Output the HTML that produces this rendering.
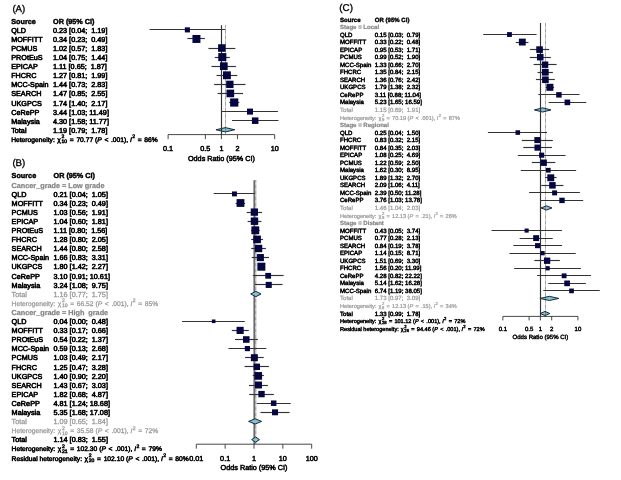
<!DOCTYPE html>
<html lang="en"><head><meta charset="utf-8"><title>Forest plots</title>
<style>
html,body{margin:0;padding:0;background:#fff;}
body{width:621px;height:480px;position:relative;overflow:hidden;font-family:"Liberation Sans", sans-serif;}
#fig{position:absolute;left:0;top:0;width:621px;height:480px;overflow:hidden;will-change:transform;}
svg{position:absolute;left:0;top:0;}
svg text{font-family:"Liberation Sans", sans-serif;fill:#000;stroke:#000;stroke-width:.6px;white-space:pre;text-rendering:geometricPrecision;}
svg text.g{fill:#9a9a9a;stroke:#9a9a9a;}
svg text.gd{fill:#868686;stroke:#868686;}
</style></head><body><div id="fig">
<svg width="621" height="480" viewBox="0 0 621 480">
<polygon points="215.94,129.76 225.43,127.61 234.75,129.76 225.43,131.91" fill="#84c0d6" stroke="#10202a" stroke-width="0.95"/>
<polygon points="534.35,109.93 542.68,107.83 550.95,109.93 542.68,112.03" fill="#84c0d6" stroke="#10202a" stroke-width="0.95"/>
<polygon points="541.04,207.95 546.57,205.85 551.95,207.95 546.57,210.05" fill="#84c0d6" stroke="#10202a" stroke-width="0.95"/>
<polygon points="539.90,298.43 549.34,296.33 558.80,298.43 549.34,300.53" fill="#84c0d6" stroke="#10202a" stroke-width="0.95"/>
<polygon points="540.24,313.51 545.05,311.41 549.80,313.51 545.05,315.61" fill="#84c0d6" stroke="#10202a" stroke-width="0.95"/>
<line x1="221.50" y1="25.20" x2="221.50" y2="134.60" stroke="#333333" stroke-width="1.15"/>
<line x1="225.50" y1="25.20" x2="225.50" y2="134.60" stroke="#2a2a2a" stroke-width="0.7" stroke-dasharray="0.6 0.6"/>
<line x1="149.56" y1="29.50" x2="225.43" y2="29.50" stroke="#333333" stroke-width="1.15"/>
<rect x="184.83" y="27.33" width="5.10" height="5.10" fill="#05053f"/>
<line x1="187.38" y1="38.50" x2="204.89" y2="38.50" stroke="#333333" stroke-width="1.15"/>
<rect x="192.44" y="34.97" width="7.98" height="7.98" fill="#05053f"/>
<line x1="208.39" y1="48.50" x2="235.39" y2="48.50" stroke="#333333" stroke-width="1.15"/>
<rect x="218.08" y="44.26" width="7.56" height="7.56" fill="#05053f"/>
<line x1="214.74" y1="57.50" x2="229.84" y2="57.50" stroke="#333333" stroke-width="1.15"/>
<rect x="218.28" y="53.09" width="8.06" height="8.06" fill="#05053f"/>
<line x1="211.43" y1="66.50" x2="235.89" y2="66.50" stroke="#333333" stroke-width="1.15"/>
<rect x="219.97" y="62.36" width="7.68" height="7.68" fill="#05053f"/>
<line x1="216.52" y1="75.50" x2="237.33" y2="75.50" stroke="#333333" stroke-width="1.15"/>
<rect x="223.01" y="71.36" width="7.84" height="7.84" fill="#05053f"/>
<line x1="214.12" y1="84.50" x2="245.48" y2="84.50" stroke="#333333" stroke-width="1.15"/>
<rect x="226.17" y="80.69" width="7.34" height="7.34" fill="#05053f"/>
<line x1="217.64" y1="93.50" x2="243.07" y2="93.50" stroke="#333333" stroke-width="1.15"/>
<rect x="226.50" y="89.62" width="7.64" height="7.64" fill="#05053f"/>
<line x1="229.19" y1="102.50" x2="239.33" y2="102.50" stroke="#333333" stroke-width="1.15"/>
<rect x="230.12" y="98.42" width="8.20" height="8.20" fill="#05053f"/>
<line x1="222.08" y1="111.50" x2="277.92" y2="111.50" stroke="#333333" stroke-width="1.15"/>
<rect x="246.98" y="108.58" width="6.03" height="6.03" fill="#05053f"/>
<line x1="231.99" y1="120.50" x2="278.47" y2="120.50" stroke="#333333" stroke-width="1.15"/>
<rect x="251.90" y="117.42" width="6.53" height="6.53" fill="#05053f"/>
<path d="M168.10 139.10V134.60H274.70V139.10" fill="none" stroke="#333333" stroke-width="0.9"/>
<line x1="205.36" y1="134.60" x2="205.36" y2="139.10" stroke="#333333" stroke-width="0.9"/>
<line x1="221.40" y1="134.60" x2="221.40" y2="139.10" stroke="#333333" stroke-width="0.9"/>
<line x1="237.44" y1="134.60" x2="237.44" y2="139.10" stroke="#333333" stroke-width="0.9"/>
<text x="168.10" y="151.41" font-size="7.25" text-anchor="middle" style="stroke-width:0.51px">0.1</text>
<text x="205.36" y="151.41" font-size="7.25" text-anchor="middle" style="stroke-width:0.51px">0.5</text>
<text x="221.40" y="151.41" font-size="7.25" text-anchor="middle" style="stroke-width:0.51px">1</text>
<text x="237.44" y="151.41" font-size="7.25" text-anchor="middle" style="stroke-width:0.51px">2</text>
<text x="274.70" y="151.41" font-size="7.25" text-anchor="middle" style="stroke-width:0.51px">10</text>
<text x="221.40" y="160.81" font-size="7.25" text-anchor="middle" style="stroke-width:0.51px">Odds Ratio (95% CI)</text>
<line x1="254.15" y1="180.20" x2="254.15" y2="444.20" stroke="#333333" stroke-width="1.15"/>
<line x1="255.79" y1="180.20" x2="255.79" y2="444.20" stroke="#2a2a2a" stroke-width="0.95" stroke-dasharray="0.6 0.6"/>
<line x1="213.67" y1="193.50" x2="254.61" y2="193.50" stroke="#333333" stroke-width="1.15"/>
<rect x="231.99" y="191.44" width="4.92" height="4.92" fill="#05053f"/>
<line x1="235.59" y1="203.50" x2="245.06" y2="203.50" stroke="#333333" stroke-width="1.15"/>
<rect x="236.59" y="199.11" width="7.79" height="7.79" fill="#05053f"/>
<line x1="246.74" y1="212.50" x2="262.11" y2="212.50" stroke="#333333" stroke-width="1.15"/>
<rect x="250.72" y="208.45" width="7.30" height="7.30" fill="#05053f"/>
<line x1="247.60" y1="221.50" x2="261.43" y2="221.50" stroke="#333333" stroke-width="1.15"/>
<rect x="250.77" y="217.48" width="7.44" height="7.44" fill="#05053f"/>
<line x1="251.20" y1="230.50" x2="259.57" y2="230.50" stroke="#333333" stroke-width="1.15"/>
<rect x="251.38" y="226.37" width="7.86" height="7.86" fill="#05053f"/>
<line x1="251.20" y1="239.50" x2="262.99" y2="239.50" stroke="#333333" stroke-width="1.15"/>
<rect x="253.29" y="235.59" width="7.61" height="7.61" fill="#05053f"/>
<line x1="251.20" y1="248.50" x2="265.88" y2="248.50" stroke="#333333" stroke-width="1.15"/>
<rect x="254.89" y="244.82" width="7.36" height="7.36" fill="#05053f"/>
<line x1="251.67" y1="257.50" x2="269.00" y2="257.50" stroke="#333333" stroke-width="1.15"/>
<rect x="256.80" y="254.04" width="7.11" height="7.11" fill="#05053f"/>
<line x1="258.39" y1="266.50" x2="264.27" y2="266.50" stroke="#333333" stroke-width="1.15"/>
<rect x="257.36" y="262.70" width="8.00" height="8.00" fill="#05053f"/>
<line x1="252.82" y1="275.50" x2="283.59" y2="275.50" stroke="#333333" stroke-width="1.15"/>
<rect x="265.28" y="272.91" width="5.78" height="5.78" fill="#05053f"/>
<line x1="254.96" y1="284.50" x2="282.53" y2="284.50" stroke="#333333" stroke-width="1.15"/>
<rect x="265.68" y="281.86" width="6.09" height="6.09" fill="#05053f"/>
<polygon points="250.73,294.00 255.86,291.35 261.01,294.00 255.86,296.65" fill="#84c0d6" stroke="#10202a" stroke-width="0.95"/>
<line x1="182.02" y1="321.50" x2="244.80" y2="321.50" stroke="#333333" stroke-width="1.15"/>
<rect x="211.86" y="319.49" width="3.61" height="3.61" fill="#05053f"/>
<line x1="231.80" y1="330.50" x2="248.79" y2="330.50" stroke="#333333" stroke-width="1.15"/>
<rect x="236.54" y="326.83" width="7.14" height="7.14" fill="#05053f"/>
<line x1="235.03" y1="339.50" x2="257.94" y2="339.50" stroke="#333333" stroke-width="1.15"/>
<rect x="243.00" y="336.22" width="6.55" height="6.55" fill="#05053f"/>
<line x1="228.44" y1="348.50" x2="266.35" y2="348.50" stroke="#333333" stroke-width="1.15"/>
<rect x="244.81" y="346.02" width="5.16" height="5.16" fill="#05053f"/>
<line x1="245.06" y1="357.50" x2="263.71" y2="357.50" stroke="#333333" stroke-width="1.15"/>
<rect x="250.88" y="354.21" width="6.98" height="6.98" fill="#05053f"/>
<line x1="244.54" y1="366.50" x2="268.88" y2="366.50" stroke="#333333" stroke-width="1.15"/>
<rect x="253.59" y="363.60" width="6.41" height="6.41" fill="#05053f"/>
<line x1="252.68" y1="375.50" x2="263.88" y2="375.50" stroke="#333333" stroke-width="1.15"/>
<rect x="254.39" y="372.07" width="7.66" height="7.66" fill="#05053f"/>
<line x1="248.98" y1="385.50" x2="267.89" y2="385.50" stroke="#333333" stroke-width="1.15"/>
<rect x="255.00" y="381.52" width="6.95" height="6.95" fill="#05053f"/>
<line x1="249.17" y1="394.50" x2="273.84" y2="394.50" stroke="#333333" stroke-width="1.15"/>
<rect x="258.32" y="390.91" width="6.38" height="6.38" fill="#05053f"/>
<line x1="256.70" y1="403.50" x2="290.68" y2="403.50" stroke="#333333" stroke-width="1.15"/>
<rect x="270.93" y="400.45" width="5.49" height="5.49" fill="#05053f"/>
<line x1="260.50" y1="412.50" x2="289.56" y2="412.50" stroke="#333333" stroke-width="1.15"/>
<rect x="272.04" y="409.33" width="5.95" height="5.95" fill="#05053f"/>
<polygon points="248.60,421.40 255.08,418.75 261.64,421.40 255.08,424.05" fill="#84c0d6" stroke="#10202a" stroke-width="0.95"/>
<polygon points="251.67,439.60 255.64,436.95 259.49,439.60 255.64,442.25" fill="#84c0d6" stroke="#10202a" stroke-width="0.95"/>
<path d="M196.30 448.70V444.20H311.70V448.70" fill="none" stroke="#333333" stroke-width="0.9"/>
<line x1="225.15" y1="444.20" x2="225.15" y2="448.70" stroke="#333333" stroke-width="0.9"/>
<line x1="254.00" y1="444.20" x2="254.00" y2="448.70" stroke="#333333" stroke-width="0.9"/>
<line x1="282.85" y1="444.20" x2="282.85" y2="448.70" stroke="#333333" stroke-width="0.9"/>
<text x="196.30" y="461.01" font-size="7.25" text-anchor="middle" style="stroke-width:0.51px">0.01</text>
<text x="225.15" y="461.01" font-size="7.25" text-anchor="middle" style="stroke-width:0.51px">0.1</text>
<text x="254.00" y="461.01" font-size="7.25" text-anchor="middle" style="stroke-width:0.51px">1</text>
<text x="282.85" y="461.01" font-size="7.25" text-anchor="middle" style="stroke-width:0.51px">10</text>
<text x="311.70" y="461.01" font-size="7.25" text-anchor="middle" style="stroke-width:0.51px">100</text>
<text x="254.00" y="470.01" font-size="7.25" text-anchor="middle" style="stroke-width:0.51px">Odds Ratio (95% CI)</text>
<line x1="540.50" y1="23.00" x2="540.50" y2="316.40" stroke="#333333" stroke-width="1.15"/>
<line x1="545.50" y1="23.00" x2="545.50" y2="316.40" stroke="#2a2a2a" stroke-width="0.7" stroke-dasharray="0.6 0.6"/>
<line x1="483.22" y1="34.50" x2="536.56" y2="34.50" stroke="#333333" stroke-width="1.15"/>
<rect x="507.05" y="32.11" width="4.83" height="4.83" fill="#05053f"/>
<line x1="515.71" y1="42.50" x2="528.43" y2="42.50" stroke="#333333" stroke-width="1.15"/>
<rect x="518.88" y="38.63" width="6.88" height="6.88" fill="#05053f"/>
<line x1="530.05" y1="49.50" x2="549.15" y2="49.50" stroke="#333333" stroke-width="1.15"/>
<rect x="536.25" y="46.30" width="6.63" height="6.63" fill="#05053f"/>
<line x1="529.74" y1="57.50" x2="550.87" y2="57.50" stroke="#333333" stroke-width="1.15"/>
<rect x="536.97" y="53.88" width="6.53" height="6.53" fill="#05053f"/>
<line x1="533.62" y1="64.50" x2="556.60" y2="64.50" stroke="#333333" stroke-width="1.15"/>
<rect x="541.83" y="61.47" width="6.44" height="6.44" fill="#05053f"/>
<line x1="537.56" y1="72.50" x2="552.88" y2="72.50" stroke="#333333" stroke-width="1.15"/>
<rect x="541.90" y="68.84" width="6.78" height="6.78" fill="#05053f"/>
<line x1="535.92" y1="79.50" x2="554.81" y2="79.50" stroke="#333333" stroke-width="1.15"/>
<rect x="542.10" y="76.45" width="6.64" height="6.64" fill="#05053f"/>
<line x1="545.65" y1="87.50" x2="554.12" y2="87.50" stroke="#333333" stroke-width="1.15"/>
<rect x="546.39" y="83.81" width="7.00" height="7.00" fill="#05053f"/>
<line x1="538.32" y1="94.50" x2="579.56" y2="94.50" stroke="#333333" stroke-width="1.15"/>
<rect x="556.17" y="92.12" width="5.46" height="5.46" fill="#05053f"/>
<line x1="548.57" y1="102.50" x2="586.21" y2="102.50" stroke="#333333" stroke-width="1.15"/>
<rect x="564.55" y="99.56" width="5.65" height="5.65" fill="#05053f"/>
<line x1="487.91" y1="132.50" x2="547.01" y2="132.50" stroke="#333333" stroke-width="1.15"/>
<rect x="515.51" y="130.27" width="4.56" height="4.56" fill="#05053f"/>
<line x1="521.82" y1="140.50" x2="552.88" y2="140.50" stroke="#333333" stroke-width="1.15"/>
<rect x="534.35" y="137.08" width="6.02" height="6.02" fill="#05053f"/>
<line x1="523.28" y1="147.50" x2="551.95" y2="147.50" stroke="#333333" stroke-width="1.15"/>
<rect x="534.48" y="144.56" width="6.15" height="6.15" fill="#05053f"/>
<line x1="517.79" y1="155.50" x2="565.60" y2="155.50" stroke="#333333" stroke-width="1.15"/>
<rect x="539.10" y="152.62" width="5.11" height="5.11" fill="#05053f"/>
<line x1="531.80" y1="162.50" x2="555.34" y2="162.50" stroke="#333333" stroke-width="1.15"/>
<rect x="540.44" y="159.50" width="6.41" height="6.41" fill="#05053f"/>
<line x1="520.77" y1="170.50" x2="576.14" y2="170.50" stroke="#333333" stroke-width="1.15"/>
<rect x="545.90" y="167.88" width="4.73" height="4.73" fill="#05053f"/>
<line x1="544.93" y1="177.50" x2="556.60" y2="177.50" stroke="#333333" stroke-width="1.15"/>
<rect x="547.32" y="174.33" width="6.91" height="6.91" fill="#05053f"/>
<line x1="541.35" y1="185.50" x2="563.45" y2="185.50" stroke="#333333" stroke-width="1.15"/>
<rect x="549.18" y="182.09" width="6.49" height="6.49" fill="#05053f"/>
<line x1="529.10" y1="192.50" x2="579.91" y2="192.50" stroke="#333333" stroke-width="1.15"/>
<rect x="552.13" y="190.39" width="4.96" height="4.96" fill="#05053f"/>
<line x1="540.88" y1="200.50" x2="583.18" y2="200.50" stroke="#333333" stroke-width="1.15"/>
<rect x="559.30" y="197.71" width="5.40" height="5.40" fill="#05053f"/>
<line x1="491.55" y1="230.50" x2="561.91" y2="230.50" stroke="#333333" stroke-width="1.15"/>
<rect x="524.59" y="228.53" width="4.09" height="4.09" fill="#05053f"/>
<line x1="519.64" y1="238.50" x2="552.73" y2="238.50" stroke="#333333" stroke-width="1.15"/>
<rect x="533.19" y="235.16" width="5.90" height="5.90" fill="#05053f"/>
<line x1="513.32" y1="245.50" x2="562.08" y2="245.50" stroke="#333333" stroke-width="1.15"/>
<rect x="535.03" y="243.12" width="5.06" height="5.06" fill="#05053f"/>
<line x1="509.46" y1="253.50" x2="575.70" y2="253.50" stroke="#333333" stroke-width="1.15"/>
<rect x="540.41" y="251.06" width="4.25" height="4.25" fill="#05053f"/>
<line x1="534.35" y1="260.50" x2="559.87" y2="260.50" stroke="#333333" stroke-width="1.15"/>
<rect x="543.96" y="257.57" width="6.31" height="6.31" fill="#05053f"/>
<line x1="514.15" y1="268.50" x2="580.91" y2="268.50" stroke="#333333" stroke-width="1.15"/>
<rect x="545.54" y="266.15" width="4.23" height="4.23" fill="#05053f"/>
<line x1="537.16" y1="275.50" x2="590.97" y2="275.50" stroke="#333333" stroke-width="1.15"/>
<rect x="561.71" y="273.41" width="4.81" height="4.81" fill="#05053f"/>
<line x1="548.27" y1="283.50" x2="585.90" y2="283.50" stroke="#333333" stroke-width="1.15"/>
<rect x="564.27" y="280.52" width="5.65" height="5.65" fill="#05053f"/>
<line x1="543.24" y1="290.50" x2="599.74" y2="290.50" stroke="#333333" stroke-width="1.15"/>
<rect x="569.18" y="288.55" width="4.68" height="4.68" fill="#05053f"/>
<path d="M502.85 320.40V316.40H577.95V320.40" fill="none" stroke="#333333" stroke-width="0.9"/>
<line x1="529.10" y1="316.40" x2="529.10" y2="320.40" stroke="#333333" stroke-width="0.9"/>
<line x1="540.40" y1="316.40" x2="540.40" y2="320.40" stroke="#333333" stroke-width="0.9"/>
<line x1="551.70" y1="316.40" x2="551.70" y2="320.40" stroke="#333333" stroke-width="0.9"/>
<text x="502.85" y="330.98" font-size="6.05" text-anchor="middle" style="stroke-width:0.42px">0.1</text>
<text x="529.10" y="330.98" font-size="6.05" text-anchor="middle" style="stroke-width:0.42px">0.5</text>
<text x="540.40" y="330.98" font-size="6.05" text-anchor="middle" style="stroke-width:0.42px">1</text>
<text x="551.70" y="330.98" font-size="6.05" text-anchor="middle" style="stroke-width:0.42px">2</text>
<text x="577.95" y="330.98" font-size="6.05" text-anchor="middle" style="stroke-width:0.42px">10</text>
<text x="540.40" y="338.88" font-size="6.05" text-anchor="middle" style="stroke-width:0.42px">Odds Ratio (95% CI)</text>
<text x="12.40" y="12.20" font-size="9.70" style="stroke-width:0.34px">(A)</text>
<text x="11.20" y="23.80" font-size="7.25" font-weight="bold" style="stroke-width:0.45px">Source</text>
<text x="53.00" y="23.80" font-size="7.25" font-weight="bold" style="stroke-width:0.45px">OR (95% CI)</text>
<text x="11.20" y="32.88" font-size="7.25" style="stroke-width:0.57px">QLD</text>
<text x="53.00" y="32.88" font-size="7.25" style="stroke-width:0.57px">0.23 [0.04;  1.19]</text>
<text x="11.20" y="41.96" font-size="7.25" style="stroke-width:0.57px">MOFFITT</text>
<text x="53.00" y="41.96" font-size="7.25" style="stroke-width:0.57px">0.34 [0.23;  0.49]</text>
<text x="11.20" y="51.04" font-size="7.25" style="stroke-width:0.57px">PCMUS</text>
<text x="53.00" y="51.04" font-size="7.25" style="stroke-width:0.57px">1.02 [0.57;  1.83]</text>
<text x="11.20" y="60.12" font-size="7.25" style="stroke-width:0.57px">PROtEuS</text>
<text x="53.00" y="60.12" font-size="7.25" style="stroke-width:0.57px">1.04 [0.75;  1.44]</text>
<text x="11.20" y="69.20" font-size="7.25" style="stroke-width:0.57px">EPICAP</text>
<text x="53.00" y="69.20" font-size="7.25" style="stroke-width:0.57px">1.11 [0.65;  1.87]</text>
<text x="11.20" y="78.28" font-size="7.25" style="stroke-width:0.57px">FHCRC</text>
<text x="53.00" y="78.28" font-size="7.25" style="stroke-width:0.57px">1.27 [0.81;  1.99]</text>
<text x="11.20" y="87.36" font-size="7.25" style="stroke-width:0.57px">MCC-Spain</text>
<text x="53.00" y="87.36" font-size="7.25" style="stroke-width:0.57px">1.44 [0.73;  2.83]</text>
<text x="11.20" y="96.44" font-size="7.25" style="stroke-width:0.57px">SEARCH</text>
<text x="53.00" y="96.44" font-size="7.25" style="stroke-width:0.57px">1.47 [0.85;  2.55]</text>
<text x="11.20" y="105.52" font-size="7.25" style="stroke-width:0.57px">UKGPCS</text>
<text x="53.00" y="105.52" font-size="7.25" style="stroke-width:0.57px">1.74 [1.40;  2.17]</text>
<text x="11.20" y="114.60" font-size="7.25" style="stroke-width:0.57px">CeRePP</text>
<text x="53.00" y="114.60" font-size="7.25" style="stroke-width:0.57px">3.44 [1.03; 11.49]</text>
<text x="11.20" y="123.68" font-size="7.25" style="stroke-width:0.57px">Malaysia</text>
<text x="53.00" y="123.68" font-size="7.25" style="stroke-width:0.57px">4.30 [1.58; 11.77]</text>
<text x="11.20" y="132.76" font-size="7.25" style="stroke-width:0.57px">Total</text>
<text x="53.00" y="132.76" font-size="7.25" style="stroke-width:0.57px">1.19 [0.79;  1.78]</text>
<text x="11.20" y="141.84" font-size="6.71" style="stroke-width:0.52px">Heterogeneity: <tspan dx="0.58">χ</tspan><tspan font-size="5.07" dx="0.73" dy="-3.41">2</tspan><tspan font-size="5.07" dx="-2.82" dy="5.00">10</tspan><tspan dx="0.80" dy="-1.59"> = </tspan><tspan dx="0.80">70.77 (<tspan font-style="italic">P</tspan></tspan><tspan dx="0.80"> &lt; </tspan><tspan dx="0.80">.001), </tspan><tspan font-style="italic">I</tspan><tspan font-size="5.07" dx="0.36" dy="-3.41">2</tspan><tspan dx="0.80" dy="3.41"> = </tspan><tspan dx="0.80">86%</tspan></text>
<text x="12.40" y="166.00" font-size="9.70" style="stroke-width:0.34px">(B)</text>
<text x="11.60" y="178.40" font-size="7.25" font-weight="bold" style="stroke-width:0.45px">Source</text>
<text x="53.50" y="178.40" font-size="7.25" font-weight="bold" style="stroke-width:0.45px">OR (95% CI)</text>
<text x="11.60" y="187.50" font-size="7.25" font-weight="bold" class="g gd" style="stroke-width:0.25px">Cancer_grade = Low grade</text>
<text x="11.60" y="196.60" font-size="7.25" style="stroke-width:0.57px">QLD</text>
<text x="53.50" y="196.60" font-size="7.25" style="stroke-width:0.57px">0.21 [0.04;  1.05]</text>
<text x="11.60" y="205.70" font-size="7.25" style="stroke-width:0.57px">MOFFITT</text>
<text x="53.50" y="205.70" font-size="7.25" style="stroke-width:0.57px">0.34 [0.23;  0.49]</text>
<text x="11.60" y="214.80" font-size="7.25" style="stroke-width:0.57px">PCMUS</text>
<text x="53.50" y="214.80" font-size="7.25" style="stroke-width:0.57px">1.03 [0.56;  1.91]</text>
<text x="11.60" y="223.90" font-size="7.25" style="stroke-width:0.57px">EPICAP</text>
<text x="53.50" y="223.90" font-size="7.25" style="stroke-width:0.57px">1.04 [0.60;  1.81]</text>
<text x="11.60" y="233.00" font-size="7.25" style="stroke-width:0.57px">PROtEuS</text>
<text x="53.50" y="233.00" font-size="7.25" style="stroke-width:0.57px">1.11 [0.80;  1.56]</text>
<text x="11.60" y="242.10" font-size="7.25" style="stroke-width:0.57px">FHCRC</text>
<text x="53.50" y="242.10" font-size="7.25" style="stroke-width:0.57px">1.28 [0.80;  2.05]</text>
<text x="11.60" y="251.20" font-size="7.25" style="stroke-width:0.57px">SEARCH</text>
<text x="53.50" y="251.20" font-size="7.25" style="stroke-width:0.57px">1.44 [0.80;  2.58]</text>
<text x="11.60" y="260.30" font-size="7.25" style="stroke-width:0.57px">MCC-Spain</text>
<text x="53.50" y="260.30" font-size="7.25" style="stroke-width:0.57px">1.66 [0.83;  3.31]</text>
<text x="11.60" y="269.40" font-size="7.25" style="stroke-width:0.57px">UKGPCS</text>
<text x="53.50" y="269.40" font-size="7.25" style="stroke-width:0.57px">1.80 [1.42;  2.27]</text>
<text x="11.60" y="278.50" font-size="7.25" style="stroke-width:0.57px">CeRePP</text>
<text x="53.50" y="278.50" font-size="7.25" style="stroke-width:0.57px">3.10 [0.91; 10.61]</text>
<text x="11.60" y="287.60" font-size="7.25" style="stroke-width:0.57px">Malaysia</text>
<text x="53.50" y="287.60" font-size="7.25" style="stroke-width:0.57px">3.24 [1.08;  9.75]</text>
<text x="11.60" y="296.70" font-size="7.25" class="g" style="stroke-width:0.29px">Total</text>
<text x="53.50" y="296.70" font-size="7.25" class="g" style="stroke-width:0.29px">1.16 [0.77;  1.75]</text>
<text x="11.60" y="305.80" font-size="6.71" class="g" style="stroke-width:0.27px">Heterogeneity: <tspan dx="0.58">χ</tspan><tspan font-size="5.07" dx="0.73" dy="-3.41">2</tspan><tspan font-size="5.07" dx="-2.82" dy="5.00">10</tspan><tspan dx="0.80" dy="-1.59"> = </tspan><tspan dx="0.80">66.52 (<tspan font-style="italic">P</tspan></tspan><tspan dx="0.80"> &lt; </tspan><tspan dx="0.80">.001), </tspan><tspan font-style="italic">I</tspan><tspan font-size="5.07" dx="0.36" dy="-3.41">2</tspan><tspan dx="0.80" dy="3.41"> = </tspan><tspan dx="0.80">85%</tspan></text>
<text x="11.60" y="314.90" font-size="7.25" font-weight="bold" class="g gd" style="stroke-width:0.25px">Cancer_grade = High  grade</text>
<text x="11.60" y="324.00" font-size="7.25" style="stroke-width:0.57px">QLD</text>
<text x="53.50" y="324.00" font-size="7.25" style="stroke-width:0.57px">0.04 [0.00;  0.48]</text>
<text x="11.60" y="333.10" font-size="7.25" style="stroke-width:0.57px">MOFFITT</text>
<text x="53.50" y="333.10" font-size="7.25" style="stroke-width:0.57px">0.33 [0.17;  0.66]</text>
<text x="11.60" y="342.20" font-size="7.25" style="stroke-width:0.57px">PROtEuS</text>
<text x="53.50" y="342.20" font-size="7.25" style="stroke-width:0.57px">0.54 [0.22;  1.37]</text>
<text x="11.60" y="351.30" font-size="7.25" style="stroke-width:0.57px">MCC-Spain</text>
<text x="53.50" y="351.30" font-size="7.25" style="stroke-width:0.57px">0.59 [0.13;  2.68]</text>
<text x="11.60" y="360.40" font-size="7.25" style="stroke-width:0.57px">PCMUS</text>
<text x="53.50" y="360.40" font-size="7.25" style="stroke-width:0.57px">1.03 [0.49;  2.17]</text>
<text x="11.60" y="369.50" font-size="7.25" style="stroke-width:0.57px">FHCRC</text>
<text x="53.50" y="369.50" font-size="7.25" style="stroke-width:0.57px">1.25 [0.47;  3.28]</text>
<text x="11.60" y="378.60" font-size="7.25" style="stroke-width:0.57px">UKGPCS</text>
<text x="53.50" y="378.60" font-size="7.25" style="stroke-width:0.57px">1.40 [0.90;  2.20]</text>
<text x="11.60" y="387.70" font-size="7.25" style="stroke-width:0.57px">SEARCH</text>
<text x="53.50" y="387.70" font-size="7.25" style="stroke-width:0.57px">1.43 [0.67;  3.03]</text>
<text x="11.60" y="396.80" font-size="7.25" style="stroke-width:0.57px">EPICAP</text>
<text x="53.50" y="396.80" font-size="7.25" style="stroke-width:0.57px">1.82 [0.68;  4.87]</text>
<text x="11.60" y="405.90" font-size="7.25" style="stroke-width:0.57px">CeRePP</text>
<text x="53.50" y="405.90" font-size="7.25" style="stroke-width:0.57px">4.81 [1.24; 18.68]</text>
<text x="11.60" y="415.00" font-size="7.25" style="stroke-width:0.57px">Malaysia</text>
<text x="53.50" y="415.00" font-size="7.25" style="stroke-width:0.57px">5.35 [1.68; 17.08]</text>
<text x="11.60" y="424.10" font-size="7.25" class="g" style="stroke-width:0.29px">Total</text>
<text x="53.50" y="424.10" font-size="7.25" class="g" style="stroke-width:0.29px">1.09 [0.65;  1.84]</text>
<text x="11.60" y="433.20" font-size="6.71" class="g" style="stroke-width:0.27px">Heterogeneity: <tspan dx="0.58">χ</tspan><tspan font-size="5.07" dx="0.73" dy="-3.41">2</tspan><tspan font-size="5.07" dx="-2.82" dy="5.00">10</tspan><tspan dx="0.80" dy="-1.59"> = </tspan><tspan dx="0.80">35.58 (<tspan font-style="italic">P</tspan></tspan><tspan dx="0.80"> &lt; </tspan><tspan dx="0.80">.001), </tspan><tspan font-style="italic">I</tspan><tspan font-size="5.07" dx="0.36" dy="-3.41">2</tspan><tspan dx="0.80" dy="3.41"> = </tspan><tspan dx="0.80">72%</tspan></text>
<text x="11.60" y="442.30" font-size="7.25" style="stroke-width:0.57px">Total</text>
<text x="53.50" y="442.30" font-size="7.25" style="stroke-width:0.57px">1.14 [0.83;  1.55]</text>
<text x="11.60" y="451.40" font-size="6.71" style="stroke-width:0.52px">Heterogeneity: <tspan dx="0.58">χ</tspan><tspan font-size="5.07" dx="0.73" dy="-3.41">2</tspan><tspan font-size="5.07" dx="-2.82" dy="5.00">21</tspan><tspan dx="0.80" dy="-1.59"> = </tspan><tspan dx="0.80">102.30 (<tspan font-style="italic">P</tspan></tspan><tspan dx="0.80"> &lt; </tspan><tspan dx="0.80">.001), </tspan><tspan font-style="italic">I</tspan><tspan font-size="5.07" dx="0.36" dy="-3.41">2</tspan><tspan dx="0.80" dy="3.41"> = </tspan><tspan dx="0.80">79%</tspan></text>
<text x="11.60" y="460.50" font-size="6.71" style="stroke-width:0.52px">Residual heterogeneity: <tspan dx="0.58">χ</tspan><tspan font-size="5.07" dx="0.73" dy="-3.41">2</tspan><tspan font-size="5.07" dx="-2.82" dy="5.00">20</tspan><tspan dx="0.80" dy="-1.59"> = </tspan><tspan dx="0.80">102.10 (<tspan font-style="italic">P</tspan></tspan><tspan dx="0.80"> &lt; </tspan><tspan dx="0.80">.001), </tspan><tspan font-style="italic">I</tspan><tspan font-size="5.07" dx="0.36" dy="-3.41">2</tspan><tspan dx="0.80" dy="3.41"> = </tspan><tspan dx="0.80">80%</tspan></text>
<text x="339.30" y="10.60" font-size="9.90" style="stroke-width:0.35px">(C)</text>
<text x="340.00" y="21.50" font-size="6.05" font-weight="bold" style="stroke-width:0.38px">Source</text>
<text x="374.80" y="21.50" font-size="6.05" font-weight="bold" style="stroke-width:0.38px">OR (95% CI)</text>
<text x="340.00" y="29.04" font-size="6.05" font-weight="bold" class="g gd" style="stroke-width:0.21px">Stage = Local</text>
<text x="340.00" y="36.58" font-size="6.05" style="stroke-width:0.47px">QLD</text>
<text x="374.80" y="36.58" font-size="6.05" style="stroke-width:0.47px">0.15 [0.03;  0.79]</text>
<text x="340.00" y="44.12" font-size="6.05" style="stroke-width:0.47px">MOFFITT</text>
<text x="374.80" y="44.12" font-size="6.05" style="stroke-width:0.47px">0.33 [0.22;  0.48]</text>
<text x="340.00" y="51.66" font-size="6.05" style="stroke-width:0.47px">EPICAP</text>
<text x="374.80" y="51.66" font-size="6.05" style="stroke-width:0.47px">0.95 [0.53;  1.71]</text>
<text x="340.00" y="59.20" font-size="6.05" style="stroke-width:0.47px">PCMUS</text>
<text x="374.80" y="59.20" font-size="6.05" style="stroke-width:0.47px">0.99 [0.52;  1.90]</text>
<text x="340.00" y="66.74" font-size="6.05" style="stroke-width:0.47px">MCC-Spain</text>
<text x="374.80" y="66.74" font-size="6.05" style="stroke-width:0.47px">1.33 [0.66;  2.70]</text>
<text x="340.00" y="74.28" font-size="6.05" style="stroke-width:0.47px">FHCRC</text>
<text x="374.80" y="74.28" font-size="6.05" style="stroke-width:0.47px">1.35 [0.84;  2.15]</text>
<text x="340.00" y="81.82" font-size="6.05" style="stroke-width:0.47px">SEARCH</text>
<text x="374.80" y="81.82" font-size="6.05" style="stroke-width:0.47px">1.36 [0.76;  2.42]</text>
<text x="340.00" y="89.36" font-size="6.05" style="stroke-width:0.47px">UKGPCS</text>
<text x="374.80" y="89.36" font-size="6.05" style="stroke-width:0.47px">1.79 [1.38;  2.32]</text>
<text x="340.00" y="96.90" font-size="6.05" style="stroke-width:0.47px">CeRePP</text>
<text x="374.80" y="96.90" font-size="6.05" style="stroke-width:0.47px">3.11 [0.88; 11.04]</text>
<text x="340.00" y="104.44" font-size="6.05" style="stroke-width:0.47px">Malaysia</text>
<text x="374.80" y="104.44" font-size="6.05" style="stroke-width:0.47px">5.23 [1.65; 16.59]</text>
<text x="340.00" y="111.98" font-size="6.05" class="g" style="stroke-width:0.24px">Total</text>
<text x="374.80" y="111.98" font-size="6.05" class="g" style="stroke-width:0.24px">1.15 [0.69;  1.91]</text>
<text x="340.00" y="119.52" font-size="5.60" class="g" style="stroke-width:0.22px">Heterogeneity: <tspan dx="0.48">χ</tspan><tspan font-size="4.23" dx="0.60" dy="-2.84">2</tspan><tspan font-size="4.23" dx="-2.35" dy="4.17">9</tspan><tspan dx="0.67" dy="-1.33"> = </tspan><tspan dx="0.67">70.19 (<tspan font-style="italic">P</tspan></tspan><tspan dx="0.67"> &lt; </tspan><tspan dx="0.67">.001), </tspan><tspan font-style="italic">I</tspan><tspan font-size="4.23" dx="0.30" dy="-2.84">2</tspan><tspan dx="0.67" dy="2.84"> = </tspan><tspan dx="0.67">87%</tspan></text>
<text x="340.00" y="127.06" font-size="6.05" font-weight="bold" class="g gd" style="stroke-width:0.21px">Stage = Regional</text>
<text x="340.00" y="134.60" font-size="6.05" style="stroke-width:0.47px">QLD</text>
<text x="374.80" y="134.60" font-size="6.05" style="stroke-width:0.47px">0.25 [0.04;  1.50]</text>
<text x="340.00" y="142.14" font-size="6.05" style="stroke-width:0.47px">FHCRC</text>
<text x="374.80" y="142.14" font-size="6.05" style="stroke-width:0.47px">0.83 [0.32;  2.15]</text>
<text x="340.00" y="149.68" font-size="6.05" style="stroke-width:0.47px">MOFFITT</text>
<text x="374.80" y="149.68" font-size="6.05" style="stroke-width:0.47px">0.84 [0.35;  2.03]</text>
<text x="340.00" y="157.22" font-size="6.05" style="stroke-width:0.47px">EPICAP</text>
<text x="374.80" y="157.22" font-size="6.05" style="stroke-width:0.47px">1.08 [0.25;  4.69]</text>
<text x="340.00" y="164.76" font-size="6.05" style="stroke-width:0.47px">PCMUS</text>
<text x="374.80" y="164.76" font-size="6.05" style="stroke-width:0.47px">1.22 [0.59;  2.50]</text>
<text x="340.00" y="172.30" font-size="6.05" style="stroke-width:0.47px">Malaysia</text>
<text x="374.80" y="172.30" font-size="6.05" style="stroke-width:0.47px">1.62 [0.30;  8.95]</text>
<text x="340.00" y="179.84" font-size="6.05" style="stroke-width:0.47px">UKGPCS</text>
<text x="374.80" y="179.84" font-size="6.05" style="stroke-width:0.47px">1.89 [1.32;  2.70]</text>
<text x="340.00" y="187.38" font-size="6.05" style="stroke-width:0.47px">SEARCH</text>
<text x="374.80" y="187.38" font-size="6.05" style="stroke-width:0.47px">2.09 [1.06;  4.11]</text>
<text x="340.00" y="194.92" font-size="6.05" style="stroke-width:0.47px">MCC-Spain</text>
<text x="374.80" y="194.92" font-size="6.05" style="stroke-width:0.47px">2.39 [0.50; 11.28]</text>
<text x="340.00" y="202.46" font-size="6.05" style="stroke-width:0.47px">CeRePP</text>
<text x="374.80" y="202.46" font-size="6.05" style="stroke-width:0.47px">3.76 [1.03; 13.78]</text>
<text x="340.00" y="210.00" font-size="6.05" class="g" style="stroke-width:0.24px">Total</text>
<text x="374.80" y="210.00" font-size="6.05" class="g" style="stroke-width:0.24px">1.46 [1.04;  2.03]</text>
<text x="340.00" y="217.54" font-size="5.60" class="g" style="stroke-width:0.22px">Heterogeneity: <tspan dx="0.48">χ</tspan><tspan font-size="4.23" dx="0.60" dy="-2.84">2</tspan><tspan font-size="4.23" dx="-2.35" dy="4.17">9</tspan><tspan dx="0.67" dy="-1.33"> = </tspan><tspan dx="0.67">12.13 (<tspan font-style="italic">P</tspan></tspan><tspan dx="0.67"> = </tspan><tspan dx="0.67">.21), </tspan><tspan font-style="italic">I</tspan><tspan font-size="4.23" dx="0.30" dy="-2.84">2</tspan><tspan dx="0.67" dy="2.84"> = </tspan><tspan dx="0.67">26%</tspan></text>
<text x="340.00" y="225.08" font-size="6.05" font-weight="bold" class="g gd" style="stroke-width:0.21px">Stage = Distant</text>
<text x="340.00" y="232.62" font-size="6.05" style="stroke-width:0.47px">MOFFITT</text>
<text x="374.80" y="232.62" font-size="6.05" style="stroke-width:0.47px">0.43 [0.05;  3.74]</text>
<text x="340.00" y="240.16" font-size="6.05" style="stroke-width:0.47px">PCMUS</text>
<text x="374.80" y="240.16" font-size="6.05" style="stroke-width:0.47px">0.77 [0.28;  2.13]</text>
<text x="340.00" y="247.70" font-size="6.05" style="stroke-width:0.47px">SEARCH</text>
<text x="374.80" y="247.70" font-size="6.05" style="stroke-width:0.47px">0.84 [0.19;  3.78]</text>
<text x="340.00" y="255.24" font-size="6.05" style="stroke-width:0.47px">EPICAP</text>
<text x="374.80" y="255.24" font-size="6.05" style="stroke-width:0.47px">1.14 [0.15;  8.71]</text>
<text x="340.00" y="262.78" font-size="6.05" style="stroke-width:0.47px">UKGPCS</text>
<text x="374.80" y="262.78" font-size="6.05" style="stroke-width:0.47px">1.51 [0.69;  3.30]</text>
<text x="340.00" y="270.32" font-size="6.05" style="stroke-width:0.47px">FHCRC</text>
<text x="374.80" y="270.32" font-size="6.05" style="stroke-width:0.47px">1.56 [0.20; 11.99]</text>
<text x="340.00" y="277.86" font-size="6.05" style="stroke-width:0.47px">CeRePP</text>
<text x="374.80" y="277.86" font-size="6.05" style="stroke-width:0.47px">4.28 [0.82; 22.22]</text>
<text x="340.00" y="285.40" font-size="6.05" style="stroke-width:0.47px">Malaysia</text>
<text x="374.80" y="285.40" font-size="6.05" style="stroke-width:0.47px">5.14 [1.62; 16.28]</text>
<text x="340.00" y="292.94" font-size="6.05" style="stroke-width:0.47px">MCC-Spain</text>
<text x="374.80" y="292.94" font-size="6.05" style="stroke-width:0.47px">6.74 [1.19; 38.05]</text>
<text x="340.00" y="300.48" font-size="6.05" class="g" style="stroke-width:0.24px">Total</text>
<text x="374.80" y="300.48" font-size="6.05" class="g" style="stroke-width:0.24px">1.73 [0.97;  3.09]</text>
<text x="340.00" y="308.02" font-size="5.60" class="g" style="stroke-width:0.22px">Heterogeneity: <tspan dx="0.48">χ</tspan><tspan font-size="4.23" dx="0.60" dy="-2.84">2</tspan><tspan font-size="4.23" dx="-2.35" dy="4.17">8</tspan><tspan dx="0.67" dy="-1.33"> = </tspan><tspan dx="0.67">12.13 (<tspan font-style="italic">P</tspan></tspan><tspan dx="0.67"> = </tspan><tspan dx="0.67">.15), </tspan><tspan font-style="italic">I</tspan><tspan font-size="4.23" dx="0.30" dy="-2.84">2</tspan><tspan dx="0.67" dy="2.84"> = </tspan><tspan dx="0.67">34%</tspan></text>
<text x="340.00" y="315.56" font-size="6.05" style="stroke-width:0.47px">Total</text>
<text x="374.80" y="315.56" font-size="6.05" style="stroke-width:0.47px">1.33 [0.99;  1.78]</text>
<text x="340.00" y="323.10" font-size="5.60" style="stroke-width:0.44px">Heterogeneity: <tspan dx="0.48">χ</tspan><tspan font-size="4.23" dx="0.60" dy="-2.84">2</tspan><tspan font-size="4.23" dx="-2.35" dy="4.17">28</tspan><tspan dx="0.67" dy="-1.33"> = </tspan><tspan dx="0.67">101.12 (<tspan font-style="italic">P</tspan></tspan><tspan dx="0.67"> &lt; </tspan><tspan dx="0.67">.001), </tspan><tspan font-style="italic">I</tspan><tspan font-size="4.23" dx="0.30" dy="-2.84">2</tspan><tspan dx="0.67" dy="2.84"> = </tspan><tspan dx="0.67">72%</tspan></text>
<text x="340.00" y="330.64" font-size="5.60" style="stroke-width:0.44px">Residual heterogeneity: <tspan dx="0.48">χ</tspan><tspan font-size="4.23" dx="0.60" dy="-2.84">2</tspan><tspan font-size="4.23" dx="-2.35" dy="4.17">26</tspan><tspan dx="0.67" dy="-1.33"> = </tspan><tspan dx="0.67">94.46 (<tspan font-style="italic">P</tspan></tspan><tspan dx="0.67"> &lt; </tspan><tspan dx="0.67">.001), </tspan><tspan font-style="italic">I</tspan><tspan font-size="4.23" dx="0.30" dy="-2.84">2</tspan><tspan dx="0.67" dy="2.84"> = </tspan><tspan dx="0.67">72%</tspan></text>
</svg>
</div></body></html>
